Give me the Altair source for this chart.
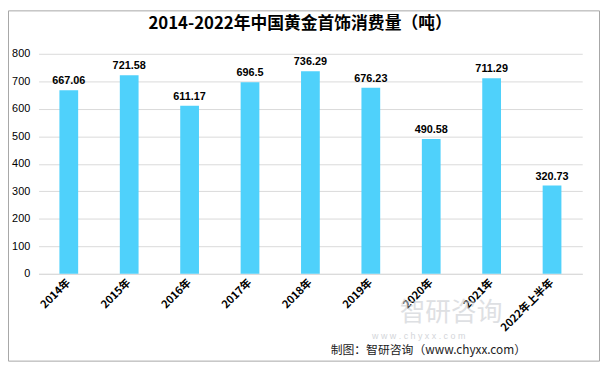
import altair as alt
import pandas as pd

years = ["2014年", "2015年", "2016年", "2017年", "2018年", "2019年", "2020年", "2021年", "2022年上半年"]
values = [667.06, 721.58, 611.17, 696.5, 736.29, 676.23, 490.58, 711.29, 320.73]
labels = ["667.06", "721.58", "611.17", "696.5", "736.29", "676.23", "490.58", "711.29", "320.73"]
title_text = "2014-2022年中国黄金首饰消费量（吨）"
source_text = "制图：智研咨询（www.chyxx.com）"

df = pd.DataFrame({"year": years, "value": values, "label": labels})
one = pd.DataFrame({"k": [0]})

W, H = 551, 223
FONT = "Noto Sans CJK SC"

x_enc = alt.X("year:N", sort=years, title=None,
              axis=alt.Axis(labelAngle=-45, labelAlign="right", labelBaseline="middle",
                            labelFontWeight="bold", labelFontSize=11, labelColor="#000",
                            labelFont=FONT, ticks=False, domainColor="#d9d9d9",
                            labelPadding=7, grid=False))
y_enc = alt.Y("value:Q", scale=alt.Scale(domain=[0, 800]), title=None,
              axis=alt.Axis(values=[0, 100, 200, 300, 400, 500, 600, 700, 800],
                            tickCount=9, labelOverlap=False, domain=False, ticks=False,
                            grid=True, gridColor="#d9d9d9", labelFontSize=11,
                            labelColor="#000", labelFont="Liberation Sans", labelPadding=9))

base = alt.Chart(df).encode(x=x_enc, y=y_enc)

bars = base.mark_bar(color="#4FD1FB", size=19)

text = base.mark_text(dy=-9, fontWeight="bold", fontSize=11, font="Liberation Sans",
                      color="#000").encode(text="label:N")

border = alt.Chart(one).mark_rect(fill=None, stroke="#a6a6a6", strokeWidth=1).encode(
    x=alt.value(-30.5), x2=alt.value(W + 17.5), y=alt.value(-43.5), y2=alt.value(H + 88.5)
)

title = alt.Chart(one).mark_text(text=title_text, fontSize=17, fontWeight="bold",
                                 font=FONT, color="#000").encode(
    x=alt.value(265), y=alt.value(-30))

watermark = alt.Chart(one).mark_text(text="智研咨询", fontSize=26, color="#c9ccd1",
                                     opacity=0.6, font=FONT, align="left").encode(
    x=alt.value(366), y=alt.value(H + 40))
watermark2 = alt.Chart(one).mark_text(text="w w w . c h y x x . c o m", fontSize=9,
                                      color="#c9ccd1", opacity=0.8, align="left").encode(
    x=alt.value(338), y=alt.value(H + 63))
source = alt.Chart(one).mark_text(text=source_text, fontSize=12, fontWeight="normal",
                                  color="#222", font=FONT, align="left").encode(
    x=alt.value(296), y=alt.value(H + 77))

chart = alt.layer(border, watermark, watermark2, bars, text, title, source).properties(
    width=W, height=H,
    autosize=alt.AutoSizeParams(type="none"),
    padding={"left": 31, "top": 44, "right": 18, "bottom": 90},
).configure_view(stroke=None)

chart.save("out.html", embed_options={"renderer": "svg", "actions": False})
